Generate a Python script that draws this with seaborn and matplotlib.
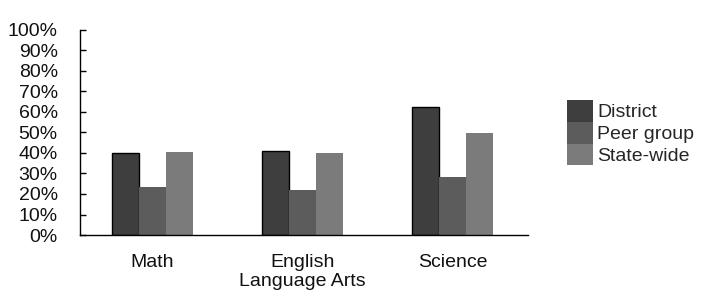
import pandas as pd
import seaborn as sns
import matplotlib.pyplot as plt
from matplotlib.ticker import FuncFormatter

# Data (percent)
subjects = ['Math', 'English\nLanguage Arts', 'Science']
groups = ['District', 'Peer group', 'State-wide']
district = [40, 41, 62.5]
peer_group = [23.5, 22, 28.5]
state_wide = [40.5, 40, 49.5]
colors = ['#3e3e3e', '#5c5c5c', '#7b7b7b']

df = pd.DataFrame({
    'subject': subjects * 3,
    'group': [groups[0]] * 3 + [groups[1]] * 3 + [groups[2]] * 3,
    'value': district + peer_group + state_wide,
})

sns.set_style('white')
plt.rcParams['font.family'] = ['Liberation Sans', 'DejaVu Sans']

fig = plt.figure(figsize=(7.13, 2.99), dpi=100)
ax = fig.add_axes([0.1122, 0.214, 0.6283, 0.686])

sns.barplot(data=df, x='subject', y='value', hue='group', order=subjects,
            hue_order=groups, palette=colors, width=0.54, gap=0,
            saturation=1, linewidth=0, ax=ax)

# district bars get a thin black outline
for bar in ax.containers[0]:
    bar.set_edgecolor('black')
    bar.set_linewidth(1)

ax.set_ylim(0, 100)
ax.set_xlim(-0.48, 2.5)
ax.set_yticks(range(0, 101, 10))
ax.yaxis.set_major_formatter(FuncFormatter(lambda v, p: f'{int(v)}%'))
ax.set_xlabel('')
ax.set_ylabel('')

for side in ['top', 'right']:
    ax.spines[side].set_visible(False)
for side in ['left', 'bottom']:
    ax.spines[side].set_color('black')
    ax.spines[side].set_linewidth(1)

ax.tick_params(axis='y', direction='in', length=4, width=1, color='black',
               left=True, pad=16, labelsize=14, labelcolor='#111111')
ax.tick_params(axis='x', length=0, pad=14, labelsize=14, labelcolor='#111111')
for lbl in ax.get_xticklabels():
    lbl.set_linespacing(1.1)

handles, labels = ax.get_legend_handles_labels()
ax.legend(handles, labels, loc='upper left', bbox_to_anchor=(0.795, 0.666),
          bbox_transform=fig.transFigure, frameon=False, fontsize=14,
          handlelength=1.35, handleheight=1.35, handletextpad=0.2,
          labelspacing=0, borderpad=0, borderaxespad=0)

fig.savefig('out.png', dpi=100)
